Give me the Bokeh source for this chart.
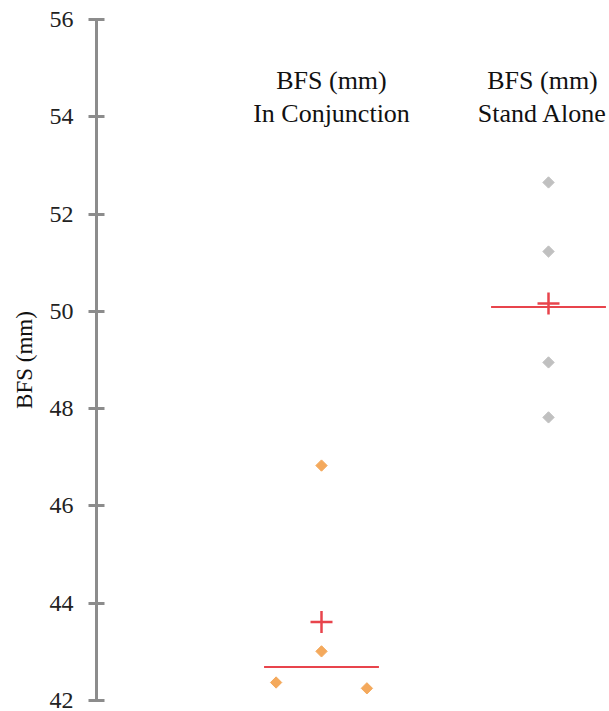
import numpy as np
from bokeh.plotting import figure
from bokeh.models import Range1d, FixedTicker
from bokeh.core.properties import value
from bokeh.embed import file_html
from bokeh.resources import INLINE

# ---- data ----
groups = ["BFS (mm)\nIn Conjunction", "BFS (mm)\nStand Alone"]
group_pos = [1, 2]
conj_vals = [46.83, 43.01, 42.37, 42.25]
conj_jitter = [0.0, 0.0, -0.2, 0.2]
stand_vals = [52.65, 51.23, 48.95, 47.82]
stand_jitter = [0.0, 0.0, 0.0, 0.0]
y_ticks = [42, 44, 46, 48, 50, 52, 54, 56]

SERIF = "Liberation Serif"
RED = "#E8444C"

p = figure(width=609, height=711, output_backend="svg", toolbar_location=None,
           x_range=Range1d(0.0088, 2.2687), y_range=Range1d(42, 56),
           min_border_left=96, min_border_top=19, min_border_bottom=11,
           min_border_right=0)
p.outline_line_color = None
p.grid.visible = False
p.xaxis.visible = False
p.background_fill_color = "white"
p.border_fill_color = "white"

yax = p.yaxis[0]
yax.ticker = FixedTicker(ticks=y_ticks)
yax.axis_line_color = "#8C8C8C"
yax.axis_line_width = 3
yax.major_tick_line_color = "#8C8C8C"
yax.major_tick_line_width = 3
yax.major_tick_in = 8
yax.major_tick_out = 8
yax.minor_tick_line_color = None
yax.major_label_text_font = SERIF
yax.major_label_text_font_size = "24px"
yax.major_label_text_color = "#222222"
yax.major_label_standoff = 15
yax.axis_label = "BFS (mm)"
yax.axis_label_text_font = SERIF
yax.axis_label_text_font_size = "23px"
yax.axis_label_text_font_style = "normal"
yax.axis_label_text_color = "#111111"
yax.axis_label_standoff = 10

# points
cx = [group_pos[0] + j for j in conj_jitter]
sx = [group_pos[1] + j for j in stand_jitter]
p.scatter(cx, conj_vals, marker="square", angle=np.pi / 4, size=8,
          fill_color="#F4A95C", line_color="#F4A95C")
p.scatter(sx, stand_vals, marker="square", angle=np.pi / 4, size=8,
          fill_color="#C0C0C0", line_color="#C0C0C0")

# mean and median
means = [float(np.mean(conj_vals)), float(np.mean(stand_vals))]
medians = [float(np.median(conj_vals)), float(np.median(stand_vals))]
half = 0.253
p.segment(x0=[g - half for g in group_pos], x1=[g + half for g in group_pos],
          y0=medians, y1=medians, line_color=RED, line_width=2)
p.scatter(group_pos, means, marker="cross", size=22, line_color=RED, line_width=2.5)

# category labels
p.text(x=group_pos, y=[56, 56], text=groups, x_offset=[10, -6], y_offset=[46, 46],
       text_align="center", text_baseline="top", text_font=value(SERIF),
       text_font_size="26px", text_color="#111111", text_line_height=1.15)

open("out.html", "w").write(file_html(p, INLINE))
